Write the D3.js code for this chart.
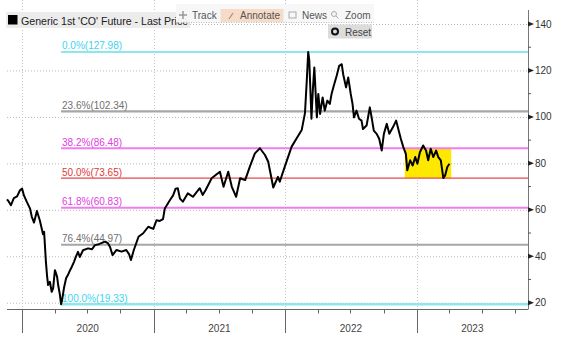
<!DOCTYPE html>
<html><head><meta charset="utf-8">
<script src="https://cdn.jsdelivr.net/npm/d3@7"></script>
<style>html,body{margin:0;padding:0;background:#fff;}svg{display:block;font-family:"Liberation Sans",Arial,sans-serif;}</style>
</head><body><svg id="c" width="564" height="347"></svg>
<script>
// ---- data ----
const dates = ["2019-11-21","2019-11-26","2019-12-02","2019-12-10","2019-12-19","2019-12-27","2020-01-02","2020-01-07","2020-01-15","2020-01-24","2020-01-29","2020-02-04","2020-02-12","2020-02-20","2020-02-29","2020-03-03","2020-03-08","2020-03-11","2020-03-14","2020-03-19","2020-03-24","2020-03-28","2020-04-02","2020-04-08","2020-04-11","2020-04-16","2020-04-19","2020-04-22","2020-04-27","2020-05-03","2020-05-08","2020-05-14","2020-05-19","2020-05-25","2020-05-30","2020-06-05","2020-06-10","2020-06-19","2020-07-03","2020-07-14","2020-07-22","2020-08-02","2020-08-19","2020-08-27","2020-09-02","2020-09-09","2020-09-20","2020-10-04","2020-10-17","2020-10-25","2020-10-30","2020-11-07","2020-11-20","2020-12-03","2020-12-17","2020-12-31","2021-01-09","2021-01-18","2021-01-27","2021-02-01","2021-02-15","2021-02-24","2021-03-03","2021-03-09","2021-03-15","2021-03-23","2021-04-06","2021-04-20","2021-05-09","2021-05-17","2021-05-25","2021-06-11","2021-06-24","2021-07-04","2021-07-14","2021-07-27","2021-08-06","2021-08-18","2021-08-29","2021-09-12","2021-09-25","2021-10-09","2021-10-23","2021-11-06","2021-11-15","2021-11-29","2021-12-12","2021-12-17","2021-12-31","2022-01-19","2022-02-02","2022-02-16","2022-02-25","2022-03-02","2022-03-06","2022-03-09","2022-03-15","2022-03-19","2022-03-23","2022-03-30","2022-04-03","2022-04-08","2022-04-15","2022-04-21","2022-04-28","2022-05-05","2022-05-10","2022-05-16","2022-05-24","2022-05-31","2022-06-07","2022-06-11","2022-06-19","2022-06-25","2022-07-02","2022-07-07","2022-07-11","2022-07-18","2022-07-25","2022-08-01","2022-08-05","2022-08-15","2022-08-24","2022-08-29","2022-09-04","2022-09-12","2022-09-19","2022-09-26","2022-10-02","2022-10-10","2022-10-17","2022-10-27","2022-11-05","2022-11-11","2022-11-18","2022-11-25","2022-12-02","2022-12-06","2022-12-14","2022-12-21","2022-12-28","2023-01-03","2023-01-10","2023-01-19","2023-01-27","2023-02-02","2023-02-09","2023-02-16","2023-02-24","2023-03-02","2023-03-09","2023-03-16","2023-03-21","2023-03-27","2023-04-02"];
const prices = [64.5,63.5,62,65,65.8,68.4,69.1,66.2,63.4,60.5,56.9,54.5,59.5,55.5,49.5,50.5,37.6,31.9,27.6,29,24.7,26.2,34,31.2,27.6,23.3,19.33,21.2,26.2,30.5,31.9,34,35.5,37.6,39.7,41.9,39.7,42.6,43.4,43,44.8,45.2,46.3,45.6,44,40.5,42.7,42,42.7,40.8,38.4,42.7,48.4,49.9,52.7,51.8,55.5,55.2,56,60.6,64.1,66.2,69.1,69.3,64.8,63.5,67.1,65.6,69.3,66.4,68.4,73.6,75.2,76.4,69.9,76.4,69.9,65.6,73.6,72.8,78.6,84.3,86.5,83.6,80.7,69.6,74.2,72.1,78.6,87.2,90.8,94.4,101.6,115.6,127.98,124.2,99.2,112,121.3,99.8,109.9,101.3,108.4,102.7,107,105.6,110,113.4,117.7,122,122.7,118.4,112.7,117,109.9,105.6,99.8,102.7,99.2,98.4,94.8,96.3,104.1,99.8,94.1,92.7,90.6,85.5,92.7,97,92.7,95.5,98.4,94.8,90.6,87,84.1,77,81.3,79.1,82.7,79.8,84.8,87.7,85.5,81.3,86.3,82.7,85.5,82.7,81.3,73.65,74.8,78.4,79.8];
const fibNames = ["0.0%","23.6%","38.2%","50.0%","61.8%","76.4%","100.0%"];
const fibValues = [127.98,102.34,86.48,73.65,60.83,44.97,19.33];
const fibStart = "2020-04-19";
const boxRange = ["2022-11-29","2023-04-07"];
const yTicks = [20,40,60,80,100,120,140];
const yMinor = [30,50,70,90,110,130];
const yearLabels = ["2020","2021","2022","2023"];
const xDomain = ["2019-11-21","2023-11-06"];
const legendText = "Generic 1st 'CO' Future - Last Price";

// ---- styles ----
const fibLineColors = ["#8ee6ee","#a6a6a6","#f07cf0","#e84848","#f07cf0","#a6a6a6","#8ee6ee"];
const fibTextColors = ["#40d4ee","#707070","#e040e0","#e03a3a","#e040e0","#707070","#40d4ee"];
const fibWidths = [2,2.2,2,1.4,2,2,2.4];

const parse = d3.timeParse("%Y-%m-%d");
const svg = d3.select("#c");
const left = 7, right = 528, bottom = 309.5;
const x = d3.scaleTime().domain(xDomain.map(parse)).range([left, right]);
const y = d3.scaleLinear().domain([20,140]).range([302.7, 24]);

// grid
const g = svg.append("g");
g.selectAll(".hg").data(yTicks).enter().append("line")
  .attr("x1", left).attr("x2", right).attr("y1", d=>y(d)+0.5).attr("y2", d=>y(d)+0.5)
  .attr("stroke","#b8b8b8").attr("stroke-width",1).attr("stroke-dasharray","1,2");
const years = d3.timeYear.range(parse("2020-01-01"), parse("2024-01-01"));
g.selectAll(".vg").data(years).enter().append("line")
  .attr("x1", d=>Math.round(x(d))+0.5).attr("x2", d=>Math.round(x(d))+0.5).attr("y1", 0).attr("y2", bottom)
  .attr("stroke","#c4c4c4").attr("stroke-width",1).attr("stroke-dasharray","1,2");

// yellow box
svg.append("rect")
  .attr("x", x(parse(boxRange[0]))).attr("width", x(parse(boxRange[1])) - x(parse(boxRange[0])))
  .attr("y", y(fibValues[2])).attr("height", y(fibValues[3]) - y(fibValues[2]))
  .attr("fill","#ffe800");

// fib lines + labels
const fx = x(parse(fibStart));
fibValues.forEach((v,i)=>{
  svg.append("line").attr("x1", fx).attr("x2", right).attr("y1", y(v)).attr("y2", y(v))
    .attr("stroke", fibLineColors[i]).attr("stroke-width", fibWidths[i]);
  svg.append("text").attr("x", fx+1).attr("y", y(v)-2.5)
    .attr("font-size", 10).attr("fill", fibTextColors[i])
    .text(fibNames[i] + "(" + v.toFixed(2) + ")");
});

// price line
const data = dates.map((d,i)=>({d:parse(d), v:prices[i]}));
svg.append("path").datum(data)
  .attr("d", d3.line().x(d=>x(d.d)).y(d=>y(d.v)))
  .attr("fill","none").attr("stroke","#000").attr("stroke-width",2).attr("stroke-linejoin","round");

// x axis
svg.append("line").attr("x1", left).attr("x2", right).attr("y1", bottom).attr("y2", bottom)
  .attr("stroke","#666").attr("stroke-width",1.2);
const quarters = d3.timeMonth.every(3).range(x.domain()[0], x.domain()[1]);
svg.selectAll(".qt").data(quarters).enter().append("line")
  .attr("x1", d=>Math.round(x(d))+0.5).attr("x2", d=>Math.round(x(d))+0.5)
  .attr("y1", bottom).attr("y2", d=> d.getMonth()===0 ? 333 : 313.5)
  .attr("stroke","#666").attr("stroke-width",1);
svg.selectAll(".yl").data(yearLabels).enter().append("text")
  .attr("x", (d)=>{ const a = x(parse(d+"-01-01")); const b = Math.min(x(parse((+d+1)+"-01-01")), right); return (a+b)/2; })
  .attr("y", 331.5).attr("text-anchor","middle").attr("font-size",10).attr("fill","#444").text(d=>d);

// y axis (right)
svg.append("line").attr("x1", right+0.5).attr("x2", right+0.5).attr("y1", 10).attr("y2", bottom)
  .attr("stroke","#777").attr("stroke-width",1);
svg.selectAll(".ytm").data(yTicks).enter().append("path")
  .attr("d", d=>`M${right},${y(d)-2.5}L${right+6},${y(d)}L${right},${y(d)+2.5}Z`)
  .attr("fill","#222");
svg.selectAll(".ymn").data(yMinor).enter().append("line")
  .attr("x1", right).attr("x2", right+3).attr("y1", d=>y(d)).attr("y2", d=>y(d))
  .attr("stroke","#555").attr("stroke-width",1);
svg.selectAll(".ylab").data(yTicks).enter().append("text")
  .attr("x", right+7).attr("y", d=>y(d)+3.5).attr("font-size",10).attr("fill","#333").text(d=>d);

// legend
svg.append("rect").attr("x",6).attr("y",12).attr("width",184).attr("height",16).attr("fill","#ececec");
svg.append("rect").attr("x",8).attr("y",15).attr("width",9.5).attr("height",9.5).attr("fill","#000");
svg.append("text").attr("x",21).attr("y",24.5).attr("font-size",10.6).attr("fill","#222").text(legendText);

// toolbar
svg.append("rect").attr("x",176).attr("y",4).attr("width",198).attr("height",18.5).attr("fill","#f7f7f7").attr("opacity",0.95);
svg.append("line").attr("x1",176).attr("x2",374).attr("y1",22.5).attr("y2",22.5).attr("stroke","#bbb").attr("stroke-dasharray","1,1.5");
svg.append("rect").attr("x",220.5).attr("y",9).attr("width",63).attr("height",13).attr("fill","#f6dcc8");
const tb = svg.append("g").attr("font-size",10).attr("fill","#555");
tb.append("text").attr("x",192).attr("y",19).text("Track");
tb.append("text").attr("x",240).attr("y",19).text("Annotate");
tb.append("text").attr("x",302).attr("y",19).text("News");
tb.append("text").attr("x",345).attr("y",19).text("Zoom");
// icons
svg.append("path").attr("d","M183,11v8M179,15h8").attr("stroke","#999").attr("stroke-width",1.5);
svg.append("path").attr("d","M229,19l4,-6").attr("stroke","#a88").attr("stroke-width",1.2);
svg.append("rect").attr("x",289).attr("y",12).attr("width",7).attr("height",6).attr("fill","none").attr("stroke","#aaa");
svg.append("circle").attr("cx",334).attr("cy",14).attr("r",2.5).attr("fill","none").attr("stroke","#aaa");
svg.append("path").attr("d","M336,16l2.5,2.5").attr("stroke","#aaa");
// reset button
svg.append("rect").attr("x",328).attr("y",24.5).attr("width",44).attr("height",14).attr("fill","#dcdcdc");
svg.append("circle").attr("cx",335).attr("cy",31.5).attr("r",3).attr("fill","none").attr("stroke","#111").attr("stroke-width",2);
svg.append("text").attr("x",345).attr("y",35.5).attr("font-size",10).attr("fill","#444").text("Reset");
</script></body></html>
